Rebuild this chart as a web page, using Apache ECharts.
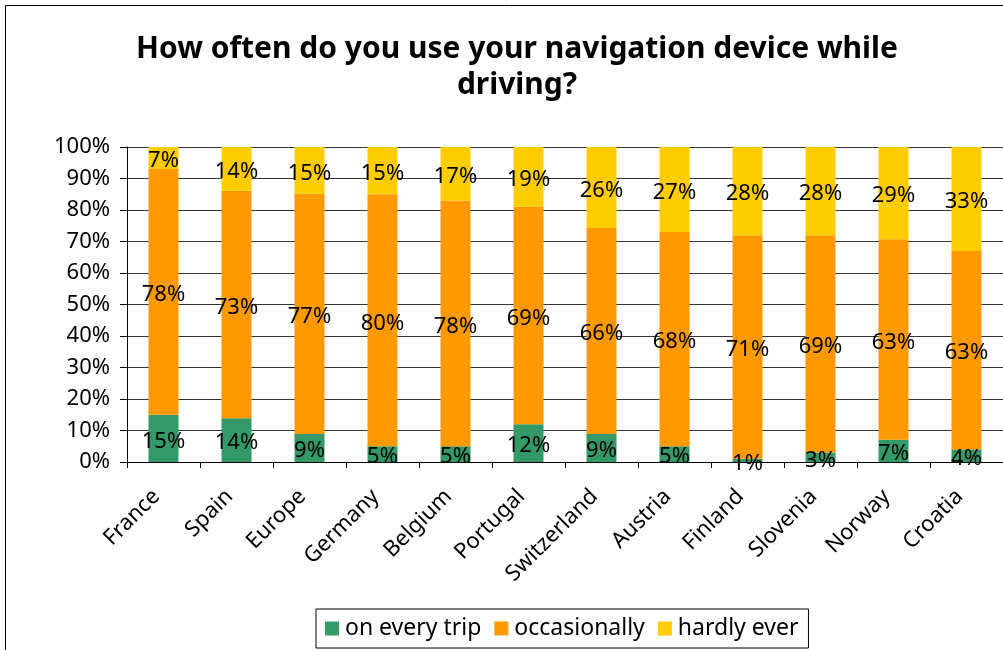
<!DOCTYPE html>
<html>
<head>
<meta charset="utf-8">
<script src="https://cdn.jsdelivr.net/npm/echarts@6/dist/echarts.min.js"></script>
<style>
  html, body { margin: 0; padding: 0; background: #fff; }
  #chart { width: 1003px; height: 650px; }
</style>
</head>
<body>
<div id="chart"></div>
<script>
// Survey: how often drivers use their navigation device, by country (share of respondents, %)
const countries = ['France', 'Spain', 'Europe', 'Germany', 'Belgium', 'Portugal',
  'Switzerland', 'Austria', 'Finland', 'Slovenia', 'Norway', 'Croatia'];
const everyTrip    = [15, 14, 9, 5, 5, 12, 9, 5, 1, 3, 7, 4];
const occasionally = [78, 73, 77, 80, 78, 69, 66, 68, 71, 69, 63, 63];
const hardlyEver   = [7, 14, 15, 15, 17, 19, 26, 27, 28, 28, 29, 33];
const seriesNames  = ['on every trip', 'occasionally', 'hardly ever'];
const seriesColors = ['#339966', '#FF9900', '#FFCC00'];
const yTicks = [0, 10, 20, 30, 40, 50, 60, 70, 80, 90, 100];

const raw = [everyTrip, occasionally, hardlyEver];
// 100% stacked: each column is scaled to its own total
const totals = countries.map((_, i) => raw.reduce((s, arr) => s + arr[i], 0));

const FONT = '"Noto Sans", "DejaVu Sans", sans-serif';

const chart = echarts.init(document.getElementById('chart'), null, { renderer: 'canvas' });

chart.setOption({
  animation: false,
  backgroundColor: '#fff',
  title: {
    text: 'How often do you use your navigation device while\ndriving?',
    left: 512,
    top: 26,
    textAlign: 'center',
    textStyle: {
      fontFamily: FONT,
      fontWeight: 'bold',
      fontSize: 30,
      lineHeight: 36,
      color: '#000'
    }
  },
  graphic: [{
    type: 'rect',
    shape: { x: 5.5, y: 5.5, width: 1100, height: 800 },
    style: { fill: 'none', stroke: '#000', lineWidth: 1 },
    silent: true
  }],
  legend: {
    left: 316,
    top: 609,
    icon: 'rect',
    itemWidth: 14,
    itemHeight: 14,
    itemGap: 13,
    padding: [8, 10, 8, 9],
    borderColor: '#000',
    borderWidth: 1,
    textStyle: { fontFamily: FONT, fontSize: 23, color: '#000', padding: [0, 0, 0, 1] },
    data: seriesNames
  },
  grid: {
    left: 127,
    right: 0,
    top: 147,
    bottom: 188,
    containLabel: false
  },
  xAxis: {
    type: 'category',
    data: countries,
    axisLine: { lineStyle: { color: '#000', width: 1 } },
    axisTick: { show: true, interval: 0, length: 6, lineStyle: { color: '#000' } },
    axisLabel: {
      interval: 0,
      rotate: 45,
      margin: 24,
      padding: [0, 10, 0, 0],
      fontFamily: FONT,
      fontSize: 22,
      color: '#000'
    }
  },
  yAxis: {
    type: 'value',
    min: yTicks[0],
    max: yTicks[yTicks.length - 1],
    interval: yTicks[1] - yTicks[0],
    axisLine: { show: true, lineStyle: { color: '#000', width: 1 } },
    axisTick: { show: true, length: 7, lineStyle: { color: '#000' } },
    axisLabel: {
      formatter: '{value}%',
      margin: 17,
      fontFamily: FONT,
      fontSize: 22,
      color: '#000',
      padding: [4, 0, 0, 0]
    },
    splitLine: { show: true, lineStyle: { color: '#333', width: 1 } }
  },
  series: raw.map((arr, k) => ({
    name: seriesNames[k],
    type: 'bar',
    stack: 'share',
    barWidth: 30,
    itemStyle: { color: seriesColors[k] },
    data: arr.map((v, i) => v / totals[i] * 100),
    label: {
      show: true,
      position: 'inside',
      offset: [0, 3],
      fontFamily: FONT,
      fontSize: 22,
      color: '#000',
      formatter: p => raw[p.seriesIndex][p.dataIndex] + '%'
    }
  }))
});
</script>
</body>
</html>
